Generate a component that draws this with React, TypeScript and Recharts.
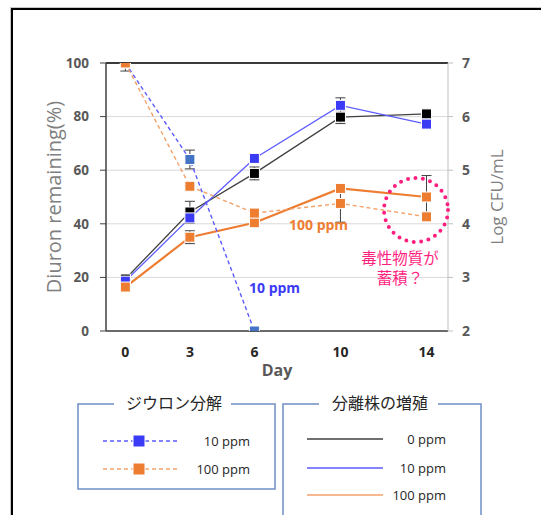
import React from 'react';
import {
  ComposedChart, Line, XAxis, YAxis, CartesianGrid, ErrorBar, ReferenceLine,
} from 'recharts';

// ---- data ----
const days = [0, 3, 6, 10, 14];
const dayTicks = [0, 3, 6, 10, 14];
const leftTicks = [0, 20, 40, 60, 80, 100];
const rightTicks = [2, 3, 4, 5, 6, 7];

// Diuron remaining (%) – left axis
const diuron10 = [100, 64, 0, null, null];
const diuron10Err = [[3, 0], [3.5, 3.5], [0, 1.5], null, null];
const diuron100 = [100, 54, 44, 47.6, 42.6];
const diuron100Err = [[0, 0], [0, 0], [1.5, 1.5], [7, 7], [1.5, 1.5]];

// Growth of isolate (log CFU/mL) – right axis
const growth0 = [2.97, 4.22, 4.94, 5.99, 6.05];
const growth0Err = [0.03, 0.2, 0.12, 0.12, 0.03];
const growth10 = [2.93, 4.11, 5.22, 6.21, 5.86];
const growth10Err = [0.03, 0.1, 0.08, 0.14, 0.06];
const growth100 = [2.82, 3.75, 4.02, 4.66, 4.5];
const growth100Err = [0.08, 0.12, 0.05, 0.06, 0.4];

const data = days.map((d, i) => ({
  day: d,
  diuron10: diuron10[i],
  diuron10Err: diuron10Err[i],
  diuron100: diuron100[i],
  diuron100Err: diuron100Err[i],
  growth0: growth0[i],
  growth0Err: growth0Err[i],
  growth10: growth10[i],
  growth10Err: growth10Err[i],
  growth100: growth100[i],
  growth100Err: growth100Err[i],
}));

const ORANGE = '#ED7D31';
const STEEL = '#4472C4';
const BLUE = '#3B3BF5';
const BLUE_LINE = '#5B5BFF';
const PINK = '#FF1F7F';
const LATIN = '"Open Sans", "Liberation Sans", sans-serif';
const CJK = '"Noto Sans CJK JP", "Noto Sans", sans-serif';

const squareDot = (fill: string, size = 10) => (props: any) => {
  const { cx, cy, index } = props;
  if (cx == null || cy == null || isNaN(cx) || isNaN(cy)) return <g key={`d${index}`} />;
  return (
    <rect
      key={`d${index}`}
      x={cx - size / 2}
      y={cy - size / 2}
      width={size}
      height={size}
      fill={fill}
      stroke="#ffffff"
      strokeWidth={1}
    />
  );
};

const errProps = { width: 5, strokeWidth: 1, stroke: '#404040', direction: 'y' as const };

export default function App() {
  return (
    <div style={{ position: 'absolute', left: 0, top: 0, width: 541, height: 515, background: '#fff', overflow: 'hidden' }}>
      {/* frame */}
      <div style={{ position: 'absolute', left: 10, top: 7, width: 560, height: 560, border: '1px solid #c8c8c8' }} />
      <div style={{ position: 'absolute', left: 11, top: 8, width: 560, height: 560, border: '2px solid #000' }} />

      <div style={{ position: 'absolute', left: 0, top: 0 }}>
        <ComposedChart
          width={541}
          height={515}
          data={data}
          margin={{ top: 63, right: 0, bottom: 154, left: 0 }}
        >
          <CartesianGrid yAxisId="left" vertical={false} stroke="#D9D9D9" strokeWidth={1} />
          <XAxis
            dataKey="day"
            type="number"
            domain={[-0.9, 15]}
            ticks={dayTicks}
            allowDataOverflow
            height={30}
            axisLine={{ stroke: '#404040', strokeWidth: 1.5 }}
            tickLine={false}
            tickSize={6}
            tickMargin={10}
            tick={{ fill: '#262626', fontSize: 14, fontWeight: 700, fontFamily: LATIN }}
            label={{
              value: 'Day',
              position: 'bottom',
              offset: 4,
              fill: '#595959',
              fontSize: 16,
              fontWeight: 700,
              fontFamily: LATIN,
            }}
          />
          <YAxis
            yAxisId="left"
            orientation="left"
            width={106}
            domain={[0, 100]}
            ticks={leftTicks}
            allowDataOverflow
            axisLine={{ stroke: '#404040', strokeWidth: 1.5 }}
            tickLine={{ stroke: '#404040' }}
            tickSize={6}
            tickMargin={11}
            tick={{ fill: '#595959', fontSize: 13.5, fontWeight: 700, fontFamily: LATIN }}
            label={{
              value: 'Diuron remaining(%)',
              angle: -90,
              position: 'insideLeft',
              offset: 54,
              fill: '#7F7F7F',
              fontSize: 20,
              fontFamily: LATIN,
              style: { textAnchor: 'middle' },
            }}
          />
          <YAxis
            yAxisId="right"
            orientation="right"
            width={93}
            domain={[2, 7]}
            ticks={rightTicks}
            allowDataOverflow
            axisLine={{ stroke: '#BFBFBF', strokeWidth: 1 }}
            tickLine={{ stroke: '#BFBFBF' }}
            tickSize={5}
            tickMargin={9}
            tick={{ fill: '#595959', fontSize: 14, fontWeight: 700, fontFamily: LATIN }}
            label={{
              value: 'Log CFU/mL',
              angle: -90,
              position: 'insideRight',
              offset: 44,
              fill: '#7F7F7F',
              fontSize: 17,
              fontFamily: LATIN,
              style: { textAnchor: 'middle' },
            }}
          />
          <ReferenceLine yAxisId="left" y={100} stroke="#000" strokeWidth={1.5} />

          {/* growth of isolate (solid) */}
          <Line
            yAxisId="right"
            dataKey="growth0"
            stroke="#404040"
            strokeWidth={1.3}
            dot={squareDot('#000000')}
            isAnimationActive={false}
          >
            <ErrorBar dataKey="growth0Err" {...errProps} />
          </Line>
          <Line
            yAxisId="right"
            dataKey="growth10"
            stroke={BLUE_LINE}
            strokeWidth={1.3}
            dot={squareDot(BLUE)}
            isAnimationActive={false}
          >
            <ErrorBar dataKey="growth10Err" {...errProps} />
          </Line>
          <Line
            yAxisId="right"
            dataKey="growth100"
            stroke={ORANGE}
            strokeWidth={2.2}
            dot={squareDot(ORANGE)}
            isAnimationActive={false}
          >
            <ErrorBar dataKey="growth100Err" {...errProps} />
          </Line>

          {/* diuron degradation (dashed) */}
          <Line
            yAxisId="left"
            dataKey="diuron10"
            stroke={BLUE_LINE}
            strokeWidth={1.4}
            strokeDasharray="4 3"
            dot={squareDot(STEEL)}
            isAnimationActive={false}
          >
            <ErrorBar dataKey="diuron10Err" {...errProps} />
          </Line>
          <Line
            yAxisId="left"
            dataKey="diuron100"
            stroke="#F4A16A"
            strokeWidth={1.4}
            strokeDasharray="4 3"
            dot={squareDot(ORANGE)}
            isAnimationActive={false}
          >
            <ErrorBar dataKey="diuron100Err" {...errProps} />
          </Line>
        </ComposedChart>
      </div>

      {/* annotations + legends */}
      <svg width={541} height={515} style={{ position: 'absolute', left: 0, top: 0, pointerEvents: 'none' }}>
        <text x={289} y={230} fill={ORANGE} fontSize={14} fontWeight={700} fontFamily={LATIN}>100 ppm</text>
        <text x={249} y={293} fill={BLUE} fontSize={14} fontWeight={700} fontFamily={LATIN}>10 ppm</text>
        <ellipse cx={416} cy={210} rx={32} ry={32} fill="none" stroke={PINK} strokeWidth={4}
          strokeDasharray="0 7.5" strokeLinecap="round" />
        <text x={400} y={264} textAnchor="middle" fill={PINK} fontSize={15.5} fontFamily={CJK}>毒性物質が</text>
        <text x={400} y={284} textAnchor="middle" fill={PINK} fontSize={15.5} fontFamily={CJK}>蓄積？</text>

        {/* legend 1 */}
        <rect x={78} y={404} width={197} height={85} fill="none" stroke="#6F8FC4" strokeWidth={1.5} />
        <rect x={114} y={396} width={117} height={16} fill="#fff" />
        <text x={174} y={409} textAnchor="middle" fill="#262626" fontSize={16} fontFamily={CJK}>ジウロン分解</text>
        <line x1={103} y1={441} x2={179} y2={441} stroke={BLUE_LINE} strokeWidth={1.3} strokeDasharray="4 3" />
        <rect x={133} y={435} width={12} height={12} fill={BLUE} stroke="#fff" strokeWidth={1} />
        <text x={250} y={446} textAnchor="end" fill="#262626" fontSize={13} fontFamily={LATIN}>10 ppm</text>
        <line x1={103} y1={469} x2={179} y2={469} stroke="#F4A16A" strokeWidth={1.3} strokeDasharray="4 3" />
        <rect x={133} y={463} width={12} height={12} fill={ORANGE} stroke="#fff" strokeWidth={1} />
        <text x={250} y={474} textAnchor="end" fill="#262626" fontSize={13} fontFamily={LATIN}>100 ppm</text>

        {/* legend 2 */}
        <rect x={283} y={404} width={198} height={140} fill="none" stroke="#6F8FC4" strokeWidth={1.5} />
        <rect x={319} y={396} width={119} height={16} fill="#fff" />
        <text x={380} y={409} textAnchor="middle" fill="#262626" fontSize={16} fontFamily={CJK}>分離株の増殖</text>
        <line x1={307} y1={439} x2={383} y2={439} stroke="#404040" strokeWidth={1.3} />
        <text x={446} y={444} textAnchor="end" fill="#262626" fontSize={13} fontFamily={LATIN}>0 ppm</text>
        <line x1={307} y1={468} x2={383} y2={468} stroke={BLUE_LINE} strokeWidth={1.3} />
        <text x={446} y={473} textAnchor="end" fill="#262626" fontSize={13} fontFamily={LATIN}>10 ppm</text>
        <line x1={307} y1={495} x2={383} y2={495} stroke="#F4A16A" strokeWidth={1.5} />
        <text x={446} y={500} textAnchor="end" fill="#262626" fontSize={13} fontFamily={LATIN}>100 ppm</text>
      </svg>
    </div>
  );
}
